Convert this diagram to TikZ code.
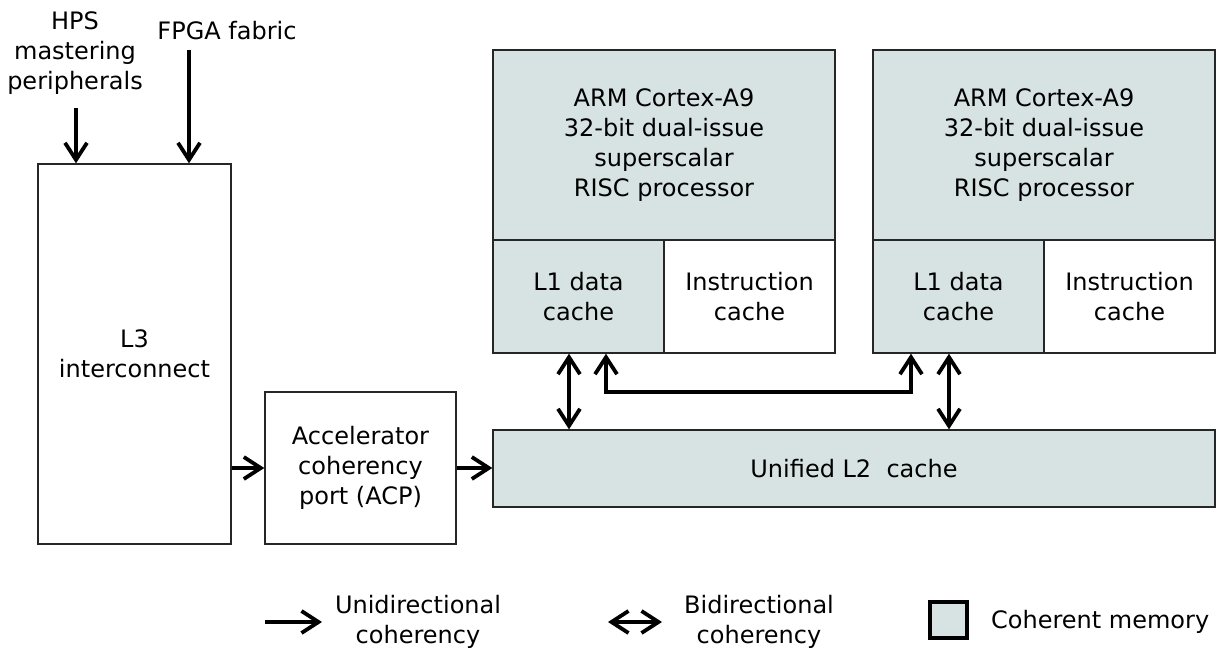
\documentclass[tikz,border=0pt]{standalone}
\usepackage{fontspec}
\setmainfont{DejaVu Sans}
\usetikzlibrary{arrows.meta}
\definecolor{cohblue}{HTML}{D7E3E3}
\tikzset{
  blk/.style={draw=black!85, line width=1.4pt, inner sep=0pt, align=center, font=\fontsize{24}{30}\selectfont},
  coh/.style={blk, fill=cohblue},
  barb/.tip={Straight Barb[length=17pt,width=22pt]},
  uni/.style={line width=3.8pt, -barb},
  bi/.style={line width=3.8pt, barb-barb},
  lbl/.style={inner sep=0pt, align=center, font=\fontsize{24}{30}\selectfont}
}

\begin{document}
\begin{tikzpicture}[x=1pt,y=-1pt]
\useasboundingbox (0,0) rectangle (1227,648);
% left side
\node[blk, minimum width=193pt, minimum height=380pt] (l3) at (134.5,354) {L3\\interconnect};
\node[blk, minimum width=191pt, minimum height=152pt] (acp) at (360.5,468) {Accelerator\\coherency\\port (ACP)};
\node[lbl] (hps) at (75,53) {HPS\\mastering\\peripherals};
\node[lbl] (fpga) at (227,31) {FPGA fabric};
\coordinate (hpsin) at (76,108);
\coordinate (fpgain) at (189,50);
\draw[uni] (hpsin) -- (hpsin |- l3.north);
\draw[uni] (fpgain) -- (fpgain |- l3.north);
% cores and caches
\node[coh, minimum width=342pt, minimum height=190pt] (cpuA) at (664,145) {ARM Cortex-A9\\32-bit dual-issue\\superscalar\\RISC processor};
\node[coh, minimum width=171pt, minimum height=113pt] (lda) at (578.5,296.5) {L1 data\\cache};
\node[blk, minimum width=171pt, minimum height=113pt] (insA) at (749.5,296.5) {Instruction\\cache};
\node[coh, minimum width=342pt, minimum height=190pt] (cpuB) at (1044,145) {ARM Cortex-A9\\32-bit dual-issue\\superscalar\\RISC processor};
\node[coh, minimum width=171pt, minimum height=113pt] (ldb) at (958.5,296.5) {L1 data\\cache};
\node[blk, minimum width=171pt, minimum height=113pt] (insB) at (1129.5,296.5) {Instruction\\cache};
\node[coh, minimum width=722pt, minimum height=77pt] (l2) at (854,468.5) {Unified L2\ \ cache};
% coherency paths
\draw[uni] (acp.west -| l3.east) -- (acp.west);
\draw[uni] (acp.east) -- (acp.east -| l2.west);
\coordinate (pa) at ([xshift=-9.5pt]lda.south);
\coordinate (pb) at ([xshift=-9.5pt]ldb.south);
\draw[bi] (pa) -- (pa |- l2.north);
\draw[bi] (pb) -- (pb |- l2.north);
\draw[bi] ([xshift=27.5pt]lda.south) -- ++(0,38) -| ([xshift=-47.5pt]ldb.south);
% legend
\coordinate (keyu1) at (265,622);
\coordinate (keyu2) at (322,622);
\coordinate (keyb1) at (608,622);
\coordinate (keyb2) at (662,622);
\draw[uni] (keyu1) -- (keyu2);
\draw[bi] (keyb1) -- (keyb2);
\node[lbl] (keyuni) at (418,622) {Unidirectional\\coherency};
\node[lbl] (keybi) at (759,622) {Bidirectional\\coherency};
\node[draw=black, line width=4pt, fill=cohblue, minimum width=37pt, minimum height=36pt, inner sep=0pt] (keybox) at (948.5,620) {};
\node[lbl, anchor=base west] (keymem) at (991,628) {Coherent memory};
\end{tikzpicture}
\end{document}
